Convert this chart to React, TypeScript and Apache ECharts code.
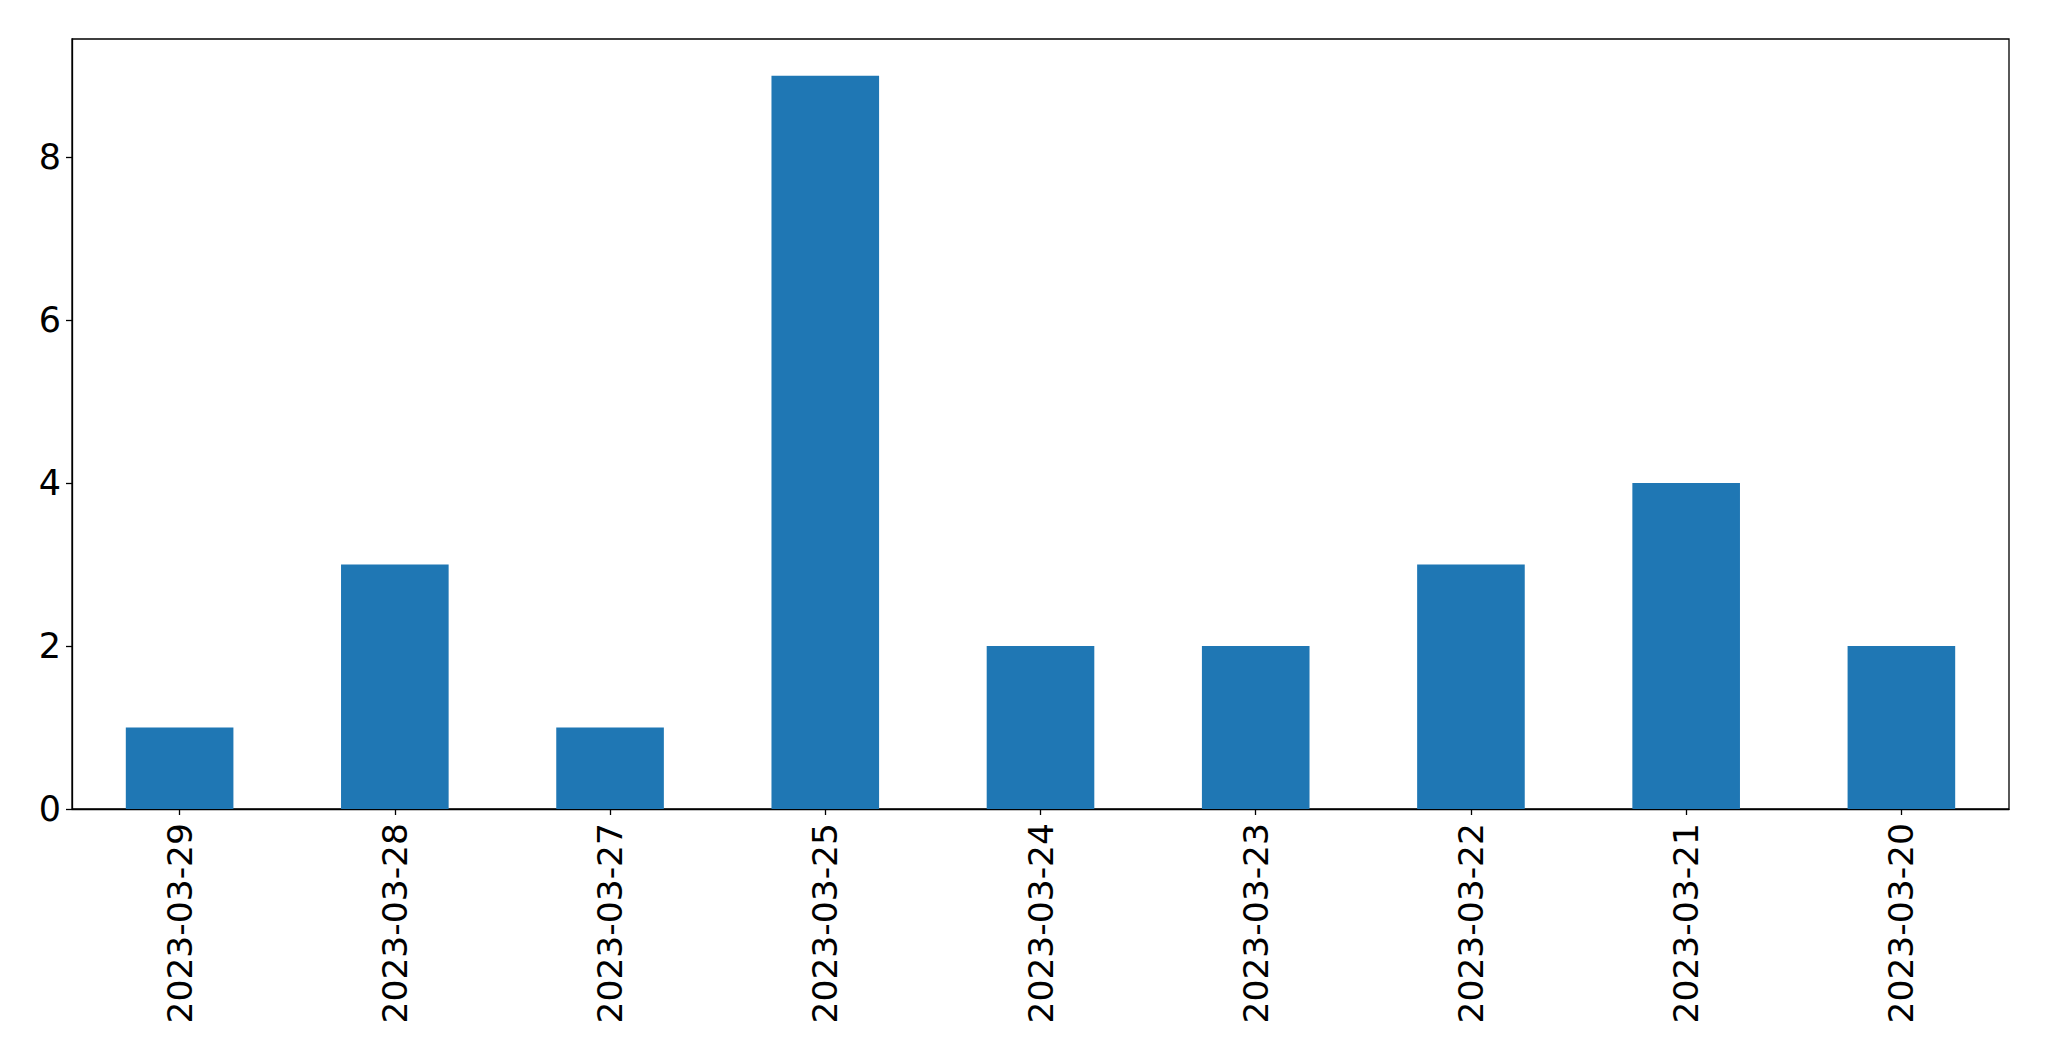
import React, { useEffect, useRef } from "react";
import * as echarts from "echarts";

const categories = [
  "2023-03-29",
  "2023-03-28",
  "2023-03-27",
  "2023-03-25",
  "2023-03-24",
  "2023-03-23",
  "2023-03-22",
  "2023-03-21",
  "2023-03-20",
];
const counts = [1, 3, 1, 9, 2, 2, 3, 4, 2];
const yTicks = [0, 2, 4, 6, 8];
const yMax = 9.45;

export default function App() {
  const ref = useRef<HTMLDivElement>(null);
  useEffect(() => {
    if (!ref.current) return;
    const chart = echarts.init(ref.current, undefined, { renderer: "svg" });
    const font = "DejaVu Sans";
    chart.setOption({
      animation: false,
      backgroundColor: "#ffffff",
      grid: {
        left: 72,
        right: 40,
        top: 39,
        bottom: 252,
        show: true,
        borderColor: "#000000",
        borderWidth: 1.3,
        backgroundColor: "transparent",
      },
      xAxis: {
        type: "category",
        data: categories,
        axisLine: { show: true, lineStyle: { color: "#000", width: 1.3 } },
        axisTick: {
          show: true,
          alignWithLabel: true,
          inside: false,
          length: 6,
          lineStyle: { color: "#000", width: 1.3 },
        },
        axisLabel: {
          rotate: 90,
          margin: 14,
          color: "#000",
          fontFamily: font,
          fontSize: 34.5,
          interval: 0,
        },
        splitLine: { show: false },
      },
      yAxis: {
        type: "value",
        min: 0,
        max: yMax,
        interval: 2,
        axisLine: { show: true, lineStyle: { color: "#000", width: 1.3 } },
        axisTick: {
          show: true,
          length: 6,
          customValues: yTicks,
          lineStyle: { color: "#000", width: 1.3 },
        },
        axisLabel: {
          customValues: yTicks,
          margin: 11,
          color: "#000",
          fontFamily: font,
          fontSize: 35,
        },
        splitLine: { show: false },
      },
      series: [
        {
          type: "bar",
          data: counts,
          barWidth: "50%",
          itemStyle: { color: "#1f77b4" },
        },
      ],
    });
    return () => chart.dispose();
  }, []);
  return (
    <div
      ref={ref}
      style={{ position: "fixed", left: 0, top: 0, width: 2049, height: 1061 }}
    />
  );
}
